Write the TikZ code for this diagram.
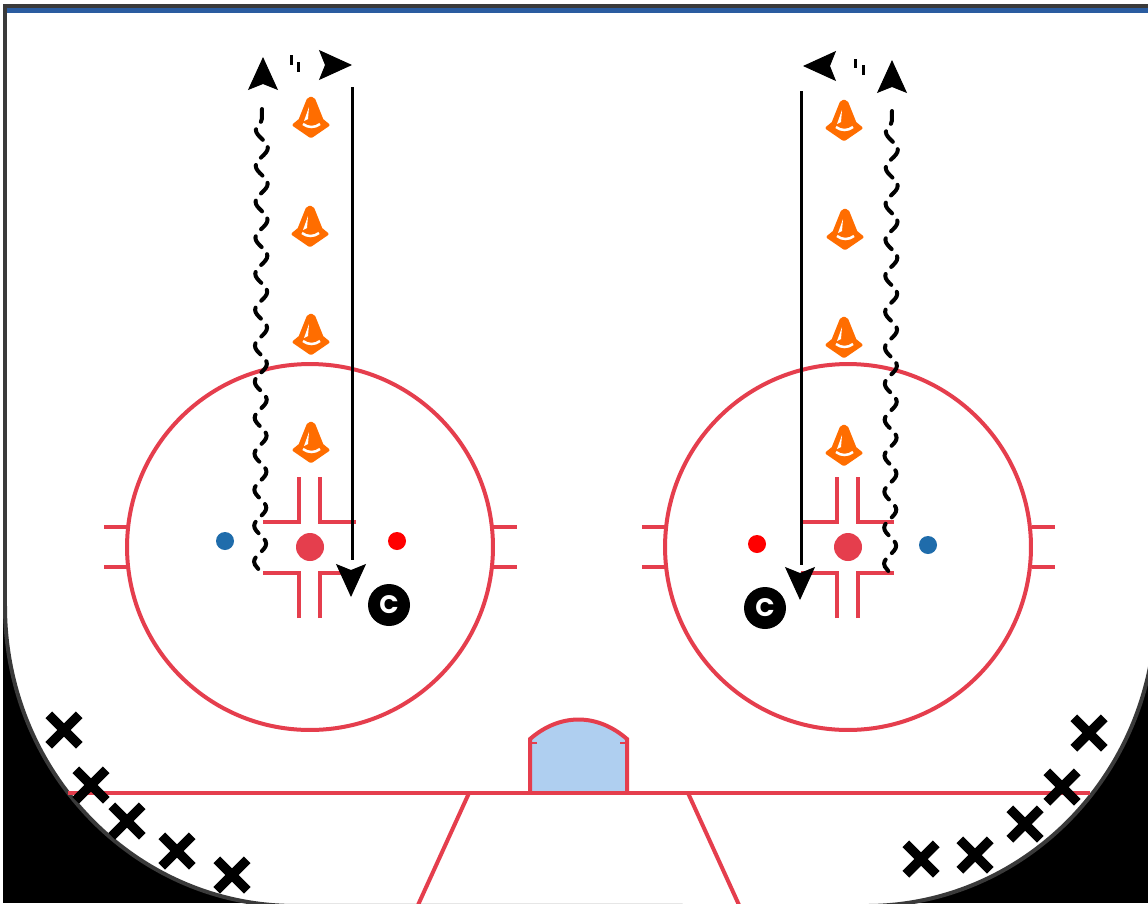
\documentclass[tikz,border=0pt]{standalone}
\usepackage{fontspec}
\setsansfont{Poppins}
\usetikzlibrary{arrows.meta,positioning,shapes.misc,decorations.pathmorphing}
\definecolor{linered}{HTML}{E53E4D}
\definecolor{creaseblue}{HTML}{AFCFF0}
\definecolor{coneorange}{HTML}{FF6D00}
\definecolor{dotblue}{HTML}{1F6CAB}
\definecolor{bandblue}{HTML}{2A5CA0}
\definecolor{boardgray}{HTML}{3A3A3A}
\tikzset{
  redln/.style={draw=linered,line width=0.08cm},
  faceoff/.style={redln,circle,minimum size=7.32cm,inner sep=0pt},
  spotdot/.style={circle,fill=linered,minimum size=0.56cm,inner sep=0pt},
  reddot/.style={circle,fill=red,minimum size=0.36cm,inner sep=0pt},
  bludot/.style={circle,fill=dotblue,minimum size=0.36cm,inner sep=0pt},
  player/.style={cross out,draw=black,line width=0.19cm,minimum size=0.42cm,inner sep=0pt},
  coach/.style={circle,fill=black,text=white,minimum size=0.84cm,inner sep=0pt,font=\sffamily\bfseries\Large},
  run/.style={line width=0.06cm},
  headarr/.style={-{Stealth[length=0.66cm,width=0.6cm,inset=0.12cm]},line width=0.02cm},
  wavy/.style={line width=0.08cm,line cap=round,dash pattern=on 0.26cm off 0.18cm,dash phase=0.35cm,
    decorate,decoration={snake,segment length=0.72cm,amplitude=0.12cm}},
  tick/.style={line width=0.06cm},
  cone/.pic={
    \fill[coneorange,draw=coneorange,line width=0.06cm,line join=round]
      (0,-20) -- (-3,-18) -- (-11,2) -- (-17,7) -- (-1,18) -- (1,18) -- (17,7) -- (11,2) -- (3,-18) -- cycle;
    \fill[white] (-2,-11) -- (-7,3) -- (-3,1) -- cycle;
    \draw[white,line width=0.05cm] (-8,6) .. controls (-3,10) and (4,10) .. (9,6);
  }
}
\begin{document}
\begin{tikzpicture}[x=0.02cm,y=-0.02cm]
  \useasboundingbox (0,0) rectangle (1148,903);
  \clip (0,0) rectangle (1148,903);

  % boards and corners
  \fill[black] (3,600) rectangle (300,903);
  \fill[black] (850,600) rectangle (1148,903);
  \draw[draw=boardgray,fill=white,line width=0.08cm] (5,6) -- (5,606)
    arc[start angle=180,end angle=90,x radius=5.8cm,y radius=-6cm] -- (866,906)
    arc[start angle=90,end angle=0,x radius=5.8cm,y radius=-6cm] -- (1156,6) -- cycle;
  \fill[bandblue] (7,8) rectangle (1148,13);

  % goal line, crease, trapezoid
  \coordinate (lineL) at (68,793);
  \coordinate (lineR) at (1090,793);
  \coordinate (trapA) at (469,793);
  \coordinate (trapB) at (418,905);
  \coordinate (trapC) at (688,793);
  \coordinate (trapD) at (739,905);
  \draw[redln,fill=creaseblue] (530,793) -- (530,739) .. controls (560,713) and (597,713) .. (627,739) -- (627,793);
  \draw[redln,line width=0.05cm] (530,743) -- (537,743) (627,743) -- (620,743);
  \draw[redln] (lineL) -- (lineR);
  \draw[redln] (trapA) -- (trapB);
  \draw[redln] (trapC) -- (trapD);

  % left circle
  \node[faceoff] (circL) at (310,547) {};
  \node[spotdot] (spotL) at (310,547) {};
  \draw[redln] (104,527) -- (127,527) (104,567) -- (127,567) (493,527) -- (517,527) (493,567) -- (517,567);
  \draw[redln] (299,477) -- (299,522) -- (263,522) (320,477) -- (320,522) -- (356,522);
  \draw[redln] (299,618) -- (299,573) -- (263,573) (320,618) -- (320,573) -- (356,573);
  \node[bludot] (bluL) at (225,541) {};
  \node[reddot] (redL) at (397,541) {};

  % right circle
  \node[faceoff] (circR) at (848,547) {};
  \node[spotdot] (spotR) at (848,547) {};
  \draw[redln] (642,527) -- (665,527) (642,567) -- (665,567) (1032,527) -- (1055,527) (1032,567) -- (1055,567);
  \draw[redln] (837,477) -- (837,522) -- (801,522) (858,477) -- (858,522) -- (894,522);
  \draw[redln] (837,618) -- (837,573) -- (801,573) (858,618) -- (858,573) -- (894,573);
  \node[reddot] (redR) at (757,544) {};
  \node[bludot] (bluR) at (928,545) {};

  % cones
  \pic (coneLa) at (311,118) {cone};
  \pic (coneLb) at (310,227) {cone};
  \pic (coneLc) at (311,335) {cone};
  \pic (coneLd) at (311,443) {cone};
  \pic (coneRa) at (844,121) {cone};
  \pic (coneRb) at (845,230) {cone};
  \pic (coneRc) at (844,338) {cone};
  \pic (coneRd) at (844,446) {cone};

  % skating paths
  \coordinate (waveLa) at (260,573);
  \coordinate (waveLb) at (262,103);
  \coordinate (waveRa) at (890,575);
  \coordinate (waveRb) at (892,107);
  \draw[wavy] (waveLa) -- (waveLb);
  \draw[wavy] (waveRa) -- (waveRb);
  \coordinate (backLa) at (263,80);
  \coordinate (tipLa) at (263,57);
  \coordinate (backLb) at (328,65);
  \coordinate (tipLb) at (352,65);
  \coordinate (backRa) at (892,84);
  \coordinate (tipRa) at (892,60);
  \coordinate (backRb) at (827,66);
  \coordinate (tipRb) at (803,66);
  \draw[headarr] (backLa) -- (tipLa);
  \draw[headarr] (backLb) -- (tipLb);
  \draw[headarr] (backRa) -- (tipRa);
  \draw[headarr] (backRb) -- (tipRb);
  \draw[tick] (291,55) -- (291,65) (298,62) -- (298,72);
  \draw[tick] (855,59) -- (855,68) (863,65) -- (863,75);
  \coordinate (runLa) at (352,87);
  \coordinate (runLb) at (352,560);
  \coordinate (backLc) at (351,575);
  \coordinate (tipLc) at (351,597);
  \coordinate (runRa) at (801,91);
  \coordinate (runRb) at (801,565);
  \coordinate (backRc) at (800,578);
  \coordinate (tipRc) at (800,600);
  \draw[run] (runLa) -- (runLb);
  \draw[run] (runRa) -- (runRb);
  \draw[headarr] (backLc) -- (tipLc);
  \draw[headarr] (backRc) -- (tipRc);

  % coaches
  \node[coach] (coachL) at (389,605) {C};
  \node[coach] (coachR) at (765,608) {C};

  % players
  \node[player] (xLa) at (64,730) {};
  \node[player] (xLb) at (91,785) {};
  \node[player] (xLc) at (127,821) {};
  \node[player] (xLd) at (177,851) {};
  \node[player] (xLe) at (232,875) {};
  \node[player] (xRa) at (1089,733) {};
  \node[player] (xRb) at (1062,787) {};
  \node[player] (xRc) at (1025,824) {};
  \node[player] (xRd) at (975,855) {};
  \node[player] (xRe) at (921,859) {};
\end{tikzpicture}
\end{document}
